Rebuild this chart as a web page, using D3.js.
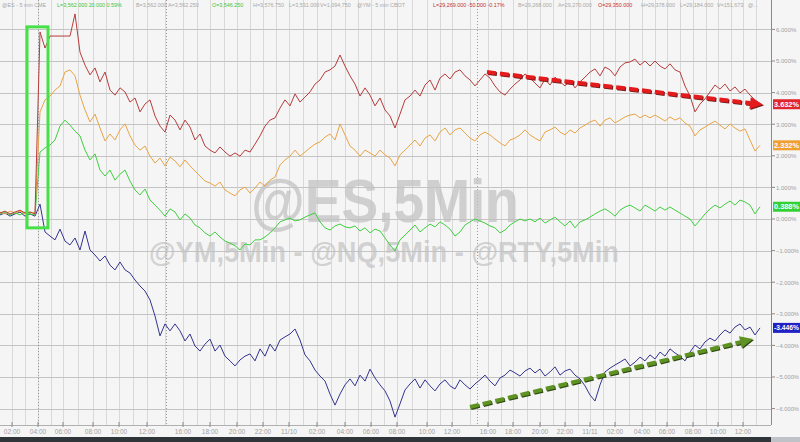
<!DOCTYPE html>
<html><head><meta charset="utf-8">
<script src="https://cdn.jsdelivr.net/npm/d3@7"></script>
<style>body{margin:0;background:#f5f5f5;}svg{display:block;font-family:"Liberation Sans",Arial,sans-serif;}</style>
</head><body>
<svg id="chart" width="800" height="442"></svg>
<script>
// ---- DATA (percent change from start, sampled bars) ----
const seriesNames = ["@YM", "@NQ", "@ES", "@RTY"];
const redValues = [0.19,0.25,0.16,0.22,0.28,0.19,0.22,0.16,5.92,5.41,5.79,5.79,5.79,5.79,5.79,6.49,5.28,4.87,4.56,4.78,4.34,4.65,4.08,3.92,4.15,4.02,3.70,3.83,3.39,3.64,3.77,3.26,2.94,2.75,3.29,3.13,2.82,3.13,2.91,2.50,2.69,2.31,2.18,2.09,2.28,2.12,1.99,2.09,1.99,2.18,2.12,2.37,2.63,2.94,3.13,3.20,3.51,3.77,3.58,3.96,3.70,3.86,4.02,4.27,4.40,4.65,4.72,4.84,5.19,4.84,4.53,4.27,3.89,4.15,3.92,3.58,3.83,3.45,3.26,2.88,3.32,3.77,3.89,4.08,3.89,4.24,4.40,4.08,4.46,4.59,4.43,4.65,4.72,4.53,4.40,4.21,4.40,4.59,4.46,4.21,4.02,3.92,4.11,4.27,4.40,4.59,4.46,4.30,4.15,4.43,4.24,4.49,4.34,4.21,4.40,4.15,4.34,4.49,4.65,4.75,4.53,4.81,4.72,4.53,4.81,4.94,4.97,5.06,4.87,5.00,4.84,5.00,4.84,4.75,4.91,4.72,4.65,4.21,3.89,3.39,3.64,3.80,4.02,4.24,4.11,4.27,4.05,4.18,3.99,4.11,3.92,3.77,3.632];
const orangeValues = [0.22,0.16,0.25,0.19,0.25,0.16,0.22,0.19,3.39,3.77,3.89,4.08,4.21,4.65,4.72,4.53,3.92,3.45,3.07,3.32,2.88,2.47,2.69,2.50,2.82,3.01,2.63,2.34,2.18,2.31,1.99,1.77,1.93,1.68,1.96,1.84,1.65,1.87,1.68,1.52,1.36,1.20,1.14,1.04,1.17,0.92,0.82,0.73,0.92,1.01,0.82,0.98,1.17,1.04,1.23,1.33,1.71,1.87,1.99,2.18,1.99,2.12,2.25,2.37,2.44,2.59,2.69,2.50,3.01,2.66,2.31,2.18,1.99,2.18,2.09,1.99,2.18,2.03,1.93,1.68,2.03,2.18,2.34,2.50,2.31,2.56,2.66,2.47,2.75,2.88,2.66,2.82,2.88,2.72,2.56,2.47,2.66,2.75,2.66,2.53,2.41,2.31,2.50,2.56,2.66,2.82,2.66,2.56,2.47,2.75,2.82,2.91,2.75,2.66,2.82,2.72,2.88,2.97,3.07,3.13,2.94,3.13,3.20,3.04,3.13,3.23,3.29,3.32,3.20,3.29,3.20,3.29,3.20,3.10,3.23,3.13,3.20,3.04,2.94,2.63,2.82,2.91,3.01,3.10,2.97,2.85,3.01,2.88,2.78,2.85,2.50,2.15,2.332];
const greenValues = [0.16,0.22,0.13,0.19,0.13,0.22,0.16,0.13,2.12,2.25,2.34,2.50,2.94,3.13,2.97,2.78,2.63,2.18,1.87,2.06,1.55,1.36,1.55,1.23,1.42,1.55,1.20,0.92,0.76,0.95,0.60,0.44,0.28,0.09,0.32,0.22,-0.03,0.16,0.03,-0.19,-0.28,-0.44,-0.54,-0.41,-0.57,-0.70,-0.76,-0.85,-0.98,-0.79,-0.82,-0.66,-0.66,-0.57,-0.44,-0.28,-0.09,-0.03,0.03,-0.06,-0.03,0.06,0.13,0.19,-0.09,-0.28,-0.35,-0.22,-0.16,-0.25,-0.28,-0.22,-0.38,-0.28,-0.44,-0.32,-0.38,-0.60,-0.82,-1.01,-0.66,-0.51,-0.35,-0.19,-0.41,-0.28,-0.16,-0.25,-0.09,-0.19,-0.32,-0.54,-0.41,-0.19,-0.09,0.00,-0.06,-0.13,-0.22,-0.28,-0.44,-0.35,-0.19,-0.09,0.00,-0.06,0.00,-0.09,0.03,-0.13,-0.03,0.06,-0.09,-0.22,-0.06,-0.28,-0.09,-0.03,0.06,0.16,0.25,0.32,0.22,0.09,0.28,0.38,0.44,0.35,0.25,0.44,0.35,0.25,0.38,0.28,0.38,0.28,0.19,0.09,0.00,-0.22,-0.03,0.16,0.32,0.44,0.35,0.47,0.57,0.44,0.60,0.54,0.44,0.16,0.388];
const blueValues = [0.13,0.19,0.09,0.16,0.22,0.09,0.16,0.09,0.47,-0.41,-0.54,-0.66,-0.32,-0.70,-0.82,-0.60,-0.98,-0.38,-0.98,-1.14,-1.33,-1.17,-1.46,-1.61,-1.36,-1.61,-1.71,-1.93,-2.12,-2.28,-2.56,-3.07,-3.70,-3.32,-3.54,-3.32,-3.54,-3.86,-3.64,-4.02,-4.18,-3.96,-3.80,-4.18,-3.99,-4.34,-4.49,-4.65,-4.46,-4.34,-4.27,-4.49,-4.11,-4.34,-3.96,-4.18,-3.83,-3.73,-3.64,-3.48,-3.83,-4.30,-4.49,-4.78,-4.97,-5.13,-5.54,-5.89,-5.54,-5.25,-5.06,-5.28,-4.94,-5.13,-4.75,-5.03,-5.25,-5.44,-5.76,-6.27,-5.85,-5.41,-5.22,-5.06,-5.35,-5.09,-5.28,-5.44,-5.22,-5.09,-5.28,-5.38,-5.09,-5.25,-5.38,-5.22,-5.09,-4.94,-5.13,-5.28,-5.03,-4.94,-4.78,-4.87,-4.97,-4.81,-4.72,-4.87,-4.75,-4.97,-4.84,-4.68,-4.94,-4.81,-4.75,-4.94,-5.06,-5.28,-5.57,-5.76,-5.25,-4.84,-4.72,-4.62,-4.53,-4.43,-4.65,-4.53,-4.37,-4.49,-4.30,-4.43,-4.21,-4.34,-4.11,-4.24,-4.34,-4.49,-4.21,-3.99,-4.11,-3.89,-3.77,-3.86,-3.67,-3.51,-3.61,-3.42,-3.32,-3.51,-3.42,-3.67,-3.446];
const lastLabels = ["3.632%", "2.332%", "0.388%", "-3.446%"];
const timeTickPos = [2.4,7.6,12.6,18.6,23.8,29.4,36.6,42,47.4,52.6,57.8,63.4,69,74.2,79.4,85.4,90.4,97.6,102.6,108,113,118,123,128.4,133.4,138.6,143.6,148.6];
const timeTickLabels = ["02:00","04:00","06:00","08:00","10:00","12:00","16:00","18:00","20:00","22:00","11/10","02:00","04:00","06:00","08:00","10:00","12:00","16:00","18:00","20:00","22:00","11/11","02:00","04:00","06:00","08:00","10:00","12:00"];
const sessionBreaks = [7.6, 33.2, 95.4];
const pctTicks = [6,5,4,3,2,1,0,-1,-2,-3,-4,-5,-6];
const headerSegments = [
  {t:"@ES - 5 min  CME", x:2, c:"#a8a8a8"},
  {t:"L=3,562.000  20.000  0.59%", x:57, c:"#3cc43c"},
  {t:"B=3,562.000", x:136, c:"#a8a8a8"},
  {t:"A=3,562.250", x:168, c:"#a8a8a8"},
  {t:"O=3,546.250", x:212, c:"#3cc43c"},
  {t:"H=3,576.750", x:253, c:"#a8a8a8"},
  {t:"L=3,531.000", x:289, c:"#a8a8a8"},
  {t:"V=1,094,750", x:320, c:"#a8a8a8"},
  {t:"@YM - 5 min  CBOT", x:357, c:"#a8a8a8"},
  {t:"L=29,269.000  -50.000  -0.17%", x:433, c:"#c43030"},
  {t:"B=29,268.000", x:518, c:"#a8a8a8"},
  {t:"A=29,270.000", x:558, c:"#a8a8a8"},
  {t:"O=29,350.000", x:598, c:"#c43030"},
  {t:"H=29,378.000", x:641, c:"#a8a8a8"},
  {t:"L=29,184.000", x:680, c:"#a8a8a8"},
  {t:"V=151,673", x:717, c:"#a8a8a8"},
  {t:"@...", x:748, c:"#a8a8a8"}
];
// annotations in data units [index, pct]
const redArrow = [[97.4, 4.65], [152.6, 3.62]];
const greenArrow = [[94, -5.95], [150.6, -3.80]];
const highlightBox = [[5.4, 6.08], [9.6, -0.28]];

// ---- DRAW ----
const W = 800, H = 442, plotR = 771, plotB = 425;
const svg = d3.select("#chart");
const x = d3.scaleLinear().domain([0, 154.2]).range([0, plotR]);
const y = d3.scaleLinear().domain([-6, 6]).range([408.6, 29.4]);

svg.append("rect").attr("width", W).attr("height", H).attr("fill", "#f5f5f5");

// vertical hourly grid
const gridPos = [];
timeTickPos.forEach((p, i) => { gridPos.push(p); if (i < timeTickPos.length - 1) gridPos.push((p + timeTickPos[i+1]) / 2); });
gridPos.push(timeTickPos[timeTickPos.length-1] + (timeTickPos[1]-timeTickPos[0]) / 2);
svg.append("g").selectAll("line").data(gridPos).join("line")
  .attr("x1", d => Math.round(x(d)) + 0.5).attr("x2", d => Math.round(x(d)) + 0.5).attr("y1", 0).attr("y2", plotB)
  .attr("stroke", "#d9d9d9").attr("stroke-width", 1);
// horizontal grid
svg.append("g").selectAll("line").data(pctTicks).join("line")
  .attr("x1", 0).attr("x2", plotR).attr("y1", d => Math.round(y(d)) + 0.5).attr("y2", d => Math.round(y(d)) + 0.5)
  .attr("stroke", "#c4c4c4").attr("stroke-width", 1);
// session breaks
svg.append("g").selectAll("line").data(sessionBreaks).join("line")
  .attr("x1", d => Math.round(x(d)) + 0.5).attr("x2", d => Math.round(x(d)) + 0.5).attr("y1", 0).attr("y2", plotB)
  .attr("stroke", "#9a9a9a").attr("stroke-dasharray", "1,2").attr("stroke-width", 1);

// watermark
svg.append("text").attr("x", 385).attr("y", 222).attr("text-anchor", "middle")
  .attr("font-size", 62).attr("font-weight", "bold").attr("fill", "#c2c2c2").attr("fill-opacity", 0.75)
  .attr("textLength", 268).attr("lengthAdjust", "spacingAndGlyphs").text("@ES,5Min");
svg.append("text").attr("x", 384).attr("y", 262).attr("text-anchor", "middle")
  .attr("font-size", 30).attr("font-weight", "bold").attr("fill", "#c2c2c2").attr("fill-opacity", 0.7)
  .attr("textLength", 470).attr("lengthAdjust", "spacingAndGlyphs").text("@YM,5Min - @NQ,5Min - @RTY,5Min");

// clip
svg.append("clipPath").attr("id", "clip").append("rect").attr("x", 0).attr("y", 0).attr("width", plotR).attr("height", plotB);

const line = d3.line().x((d, i) => x(i)).y(d => y(d));
const seriesData = [
  {v: blueValues, c: "#34348f"},
  {v: greenValues, c: "#3fd03f"},
  {v: orangeValues, c: "#e9a444"},
  {v: redValues, c: "#b73c3c"}
];
const gLines = svg.append("g").attr("clip-path", "url(#clip)");
seriesData.forEach(s => {
  gLines.append("path").datum(s.v).attr("d", line).attr("fill", "none")
    .attr("stroke", s.c).attr("stroke-width", 1).attr("stroke-linejoin", "round");
});

// highlight box
svg.append("rect")
  .attr("x", x(highlightBox[0][0])).attr("y", y(highlightBox[0][1]))
  .attr("width", x(highlightBox[1][0]) - x(highlightBox[0][0]))
  .attr("height", y(highlightBox[1][1]) - y(highlightBox[0][1]))
  .attr("fill", "none").attr("stroke", "#47e047").attr("stroke-width", 3);

// arrows
function arrow(pts, color, dark) {
  const x1 = x(pts[0][0]), y1 = y(pts[0][1]), x2 = x(pts[1][0]), y2 = y(pts[1][1]);
  const ang = Math.atan2(y2 - y1, x2 - x1);
  const hl = 13, hw = 6;
  const bx = x2 - hl * Math.cos(ang), by = y2 - hl * Math.sin(ang);
  const head = [[x2, y2], [bx + hw * Math.sin(ang), by - hw * Math.cos(ang)], [bx - hw * Math.sin(ang), by + hw * Math.cos(ang)]];
  const g = svg.append("g");
  [[1, dark], [0, color]].forEach(([o, c]) => {
    g.append("line").attr("x1", x1 + o).attr("y1", y1 + o).attr("x2", bx + o).attr("y2", by + o)
      .attr("stroke", c).attr("stroke-width", 4).attr("stroke-dasharray", "9,4");
    g.append("polygon").attr("points", head.map(p => [p[0] + o, p[1] + o].join(",")).join(" ")).attr("fill", c);
  });
}
arrow(redArrow, "#e41a1c", "#7a1a1a");
arrow(greenArrow, "#5e9222", "#2f4a12");

// header
svg.append("g").selectAll("text").data(headerSegments).join("text")
  .attr("x", d => d.x).attr("y", 7).attr("font-size", 5.4).attr("fill", d => d.c).text(d => d.t);

// right axis
svg.append("line").attr("x1", plotR + 0.5).attr("x2", plotR + 0.5).attr("y1", 0).attr("y2", plotB).attr("stroke", "#8a8a8a");
const gy = svg.append("g");
gy.selectAll("line").data(pctTicks).join("line")
  .attr("x1", plotR).attr("x2", plotR + 4).attr("y1", d => y(d)).attr("y2", d => y(d)).attr("stroke", "#8a8a8a");
gy.selectAll("text").data(pctTicks).join("text")
  .attr("x", plotR + 5).attr("y", d => y(d) + 2.3).attr("font-size", 6).attr("fill", "#a0a0a0")
  .attr("textLength", d => d < 0 ? 23 : null).attr("lengthAdjust", "spacingAndGlyphs")
  .text(d => d3.format(".3f")(d) + "%");

// bottom axis
svg.append("line").attr("x1", 0).attr("x2", plotR).attr("y1", plotB + 0.5).attr("y2", plotB + 0.5).attr("stroke", "#b0b0b0");
const gx = svg.append("g");
gx.selectAll("line").data(timeTickPos).join("line")
  .attr("x1", d => x(d)).attr("x2", d => x(d)).attr("y1", plotB - 3).attr("y2", plotB + 2).attr("stroke", "#8a8a8a");
gx.selectAll("text").data(timeTickPos).join("text")
  .attr("x", d => x(d)).attr("y", 434).attr("text-anchor", "middle").attr("font-size", 6.5).attr("fill", "#a0a0a0")
  .text((d, i) => timeTickLabels[i]);

// bottom dark bar
svg.append("rect").attr("x", 0).attr("y", 437).attr("width", plotR).attr("height", 5).attr("fill", "#30353a");
svg.append("rect").attr("x", plotR).attr("y", 437).attr("width", W - plotR).attr("height", 5).attr("fill", "#bfc3c7");

// last value labels
const lastVals = [redValues, orangeValues, greenValues, blueValues].map(a => a[a.length - 1]);
const labelColors = ["#e0262b", "#f0a030", "#33d133", "#2222c4"];
const gl = svg.append("g");
lastVals.forEach((v, i) => {
  gl.append("rect").attr("x", plotR + 2).attr("y", y(v) - 5).attr("width", 27).attr("height", 10).attr("fill", labelColors[i]);
  gl.append("text").attr("x", plotR + 15.5).attr("y", y(v) + 2.5).attr("text-anchor", "middle")
    .attr("font-size", 6.5).attr("font-weight", "bold").attr("fill", "#fff")
    .attr("textLength", 25).attr("lengthAdjust", "spacingAndGlyphs").text(lastLabels[i]);
});
</script>
</body></html>
